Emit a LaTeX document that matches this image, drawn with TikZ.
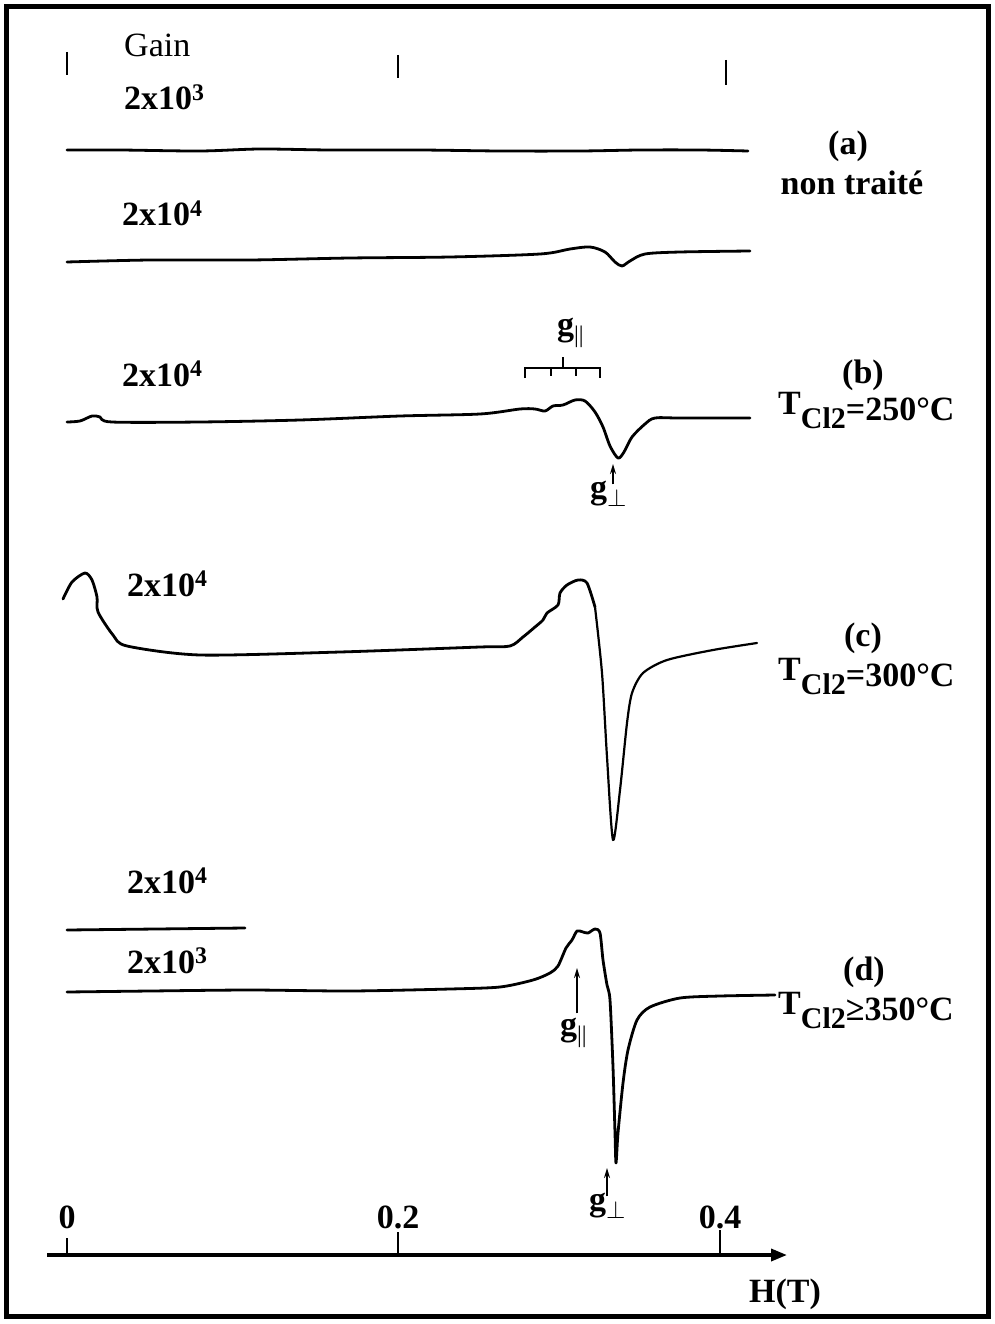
\documentclass[tikz,border=0pt]{standalone}
\usepackage{fontspec}
\setmainfont{Liberation Serif}
\usetikzlibrary{arrows.meta}
\begin{document}
\begin{tikzpicture}[x=1pt,y=-1pt]
% Définition des styles
\tikzset{
texte/.style={font=\fontsize{34}{40}\selectfont\bfseries, inner sep=0pt},
gain/.style={texte, anchor=base west},
etiquette/.style={texte, anchor=base},
courbe/.style={line width=2.8pt, line join=round, line cap=round},
repere/.style={line width=2pt},
fleche/.style={line width=1.6pt, -{Stealth[length=10pt,width=6pt]}},
axe/.style={line width=3.5pt, -{Triangle[length=16pt,width=12pt]}}
}
\useasboundingbox (0,0) rectangle (995,1324);
% Cadre
\draw[line width=5pt] (6,7) rectangle (988,1316);
% Repères du haut
\foreach \x/\ya/\yb in {67/52/75, 398/55/78, 726/60/85}
  \draw[repere] (\x,\ya) -- (\x,\yb);
% Gains
\node[gain, font=\fontsize{34}{40}\selectfont] (gain) at (124,57) {Gain};
\node[gain] (gaina) at (124,110) {2x10\textsuperscript{3}};
\node[gain] (gainab) at (122,226) {2x10\textsuperscript{4}};
\node[gain] (gainb) at (122,386) {2x10\textsuperscript{4}};
\node[gain] (gainc) at (127,596) {2x10\textsuperscript{4}};
\node[gain] (gaind) at (127,893) {2x10\textsuperscript{4}};
\node[gain] (gaindb) at (127,973) {2x10\textsuperscript{3}};
% Echantillon (a)
\draw[courbe] plot[smooth] coordinates {(67,150) (120,150) (200,151) (260,149) (330,150) (420,150) (500,151) (580,151) (640,150) (700,150) (748,151)};
\draw[courbe] plot[smooth] coordinates {(67,262) (150,260) (250,260) (350,258) (450,257) (540,254) (570,249) (590,247) (605,252) (615,262) (622,266) (630,261) (645,254) (680,252) (750,251)};
\node[etiquette] (a) at (848,155) {(a)};
\node[etiquette] (nontraite) at (852,195) {non traité};
% Echantillon (b)
\draw[courbe] plot[smooth, tension=0.5] coordinates {(67,422) (80,421) (92,416) (100,417) (112,422) (200,422) (300,420) (400,416) (480,414) (520,409) (535,409) (545,411) (553,406) (563,405) (575,400) (585,401) (595,412) (603,427) (610,446) (618,458) (624,452) (632,437) (645,424) (655,418) (680,418) (750,418)};
\draw[repere] (525,378) -- (525,368) -- (600,368) -- (600,378);
\foreach \x in {551,576}
  \draw[repere] (\x,368) -- (\x,376);
\draw[repere] (563,368) -- (563,357);
\node[gain] (gparb) at (557,335) {g\textsubscript{\normalfont ||}};
\node[gain] (gperpb) at (590,498) {g\textsubscript{$\perp$}};
\coordinate (pointeb) at (613,464);
\draw[fleche] ([yshift=-4pt]gperpb.north -| pointeb) -- (pointeb);
\node[etiquette] (b) at (863,383) {(b)};
\node[gain] (tb) at (778,420) {\raisebox{.15em}{T}\raisebox{-.25em}{\fontsize{30}{32}\selectfont Cl2}=250°C};
% Echantillon (c)
\draw[courbe] plot[smooth, tension=0.45] coordinates {(63,599) (72,582) (85,573) (92,580) (97,597) (98,612) (113,635) (127,646) (200,655) (340,652) (480,647) (510,646) (523,637) (535,627) (543,620) (547,613) (558,605) (560,593) (567,585) (578,580) (587,583) (595,607)};
\draw[courbe, line width=2.2pt] plot[smooth, tension=0.45] coordinates {(595,607) (602,673) (607,757) (613,840) (620,790) (627,723) (632,693) (643,673) (667,660) (713,650) (757,643)};
\node[etiquette] (c) at (863,646) {(c)};
\node[gain] (tc) at (778,686) {\raisebox{.15em}{T}\raisebox{-.25em}{\fontsize{30}{32}\selectfont Cl2}=300°C};
% Echantillon (d)
\draw[courbe] (67,930) -- (245,928);
\draw[courbe] plot[smooth, tension=0.45] coordinates {(67,992) (150,991) (250,990) (350,991) (450,989) (500,987) (533,980) (550,973) (558,966) (566,948) (572,940) (577,931) (583,932) (588,933) (595,929) (600,933) (603,960) (607,985) (610,1000) (613,1067) (615,1133) (616,1163) (618,1133) (623,1083) (628,1050) (637,1020) (650,1007) (680,998) (720,996) (775,995)};
\node[gain] (gpard) at (560,1035) {g\textsubscript{\normalfont ||}};
\coordinate (pointepard) at (577,968);
\draw[fleche] ([yshift=4pt]gpard.north -| pointepard) -- (pointepard);
\node[gain] (gperpd) at (589,1210) {g\textsubscript{$\perp$}};
\coordinate (pointeperpd) at (607,1168);
\draw[fleche] ([yshift=-4pt]gperpd.north -| pointeperpd) -- (pointeperpd);
\node[etiquette] (d) at (864,980) {(d)};
\node[gain] (td) at (778,1020) {\raisebox{.15em}{T}\raisebox{-.25em}{\fontsize{30}{32}\selectfont Cl2}≥350°C};
% Axe H(T)
\coordinate (origine) at (47,1255);
\coordinate (bout) at (787,1255);
\draw[axe] (origine) -- (bout);
\foreach \x/\y/\v in {67/1238/0, 398/1232/0.2, 720/1230/0.4} {
  \draw[repere] (\x,\y) -- (\x,1255);
  \node[etiquette] at (\x,1228) {\v};
}
\node[etiquette] (ht) at (785,1302) {H(T)};
\end{tikzpicture}
\end{document}
